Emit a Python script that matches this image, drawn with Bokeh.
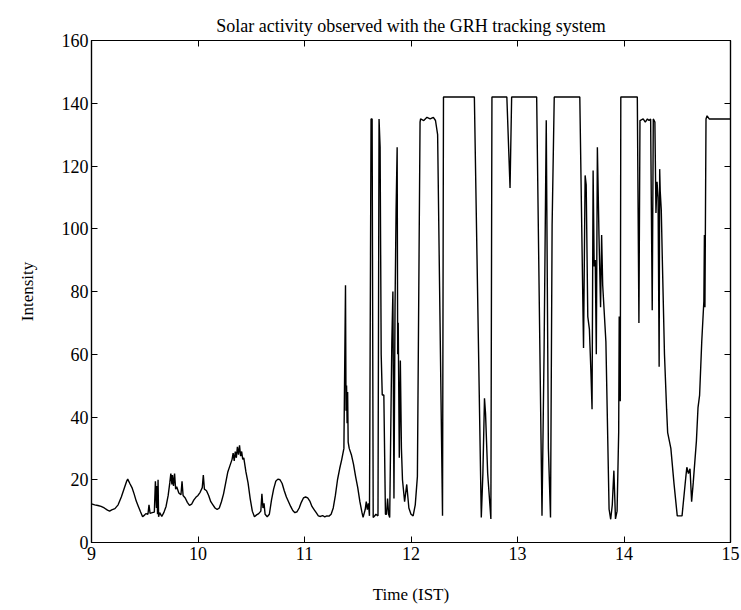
from bokeh.plotting import figure
from bokeh.models import LinearAxis, FixedTicker, Range1d, CustomLabelingPolicy
from bokeh.embed import file_html
from bokeh.resources import INLINE

# ---- data ----
time_ist = [
    9.00, 9.03, 9.06, 9.09, 9.12, 9.15, 9.17, 9.19, 9.22, 9.25, 9.28, 9.31, 9.33, 9.34, 9.36, 9.38,
    9.40, 9.42, 9.44, 9.46, 9.48, 9.50, 9.51, 9.53, 9.54, 9.55, 9.57, 9.59, 9.60, 9.61, 9.615, 9.62,
    9.625, 9.63, 9.64, 9.66, 9.68, 9.70, 9.72, 9.735, 9.745, 9.755, 9.76, 9.77, 9.78, 9.79, 9.80, 9.82,
    9.84, 9.85, 9.86, 9.88, 9.90, 9.92, 9.94, 9.96, 9.98, 10.00, 10.02, 10.04, 10.05, 10.06, 10.08, 10.10,
    10.12, 10.14, 10.16, 10.18, 10.20, 10.22, 10.24, 10.26, 10.28, 10.30, 10.32, 10.33, 10.34, 10.35, 10.36, 10.37,
    10.38, 10.39, 10.40, 10.41, 10.42, 10.43, 10.45, 10.47, 10.49, 10.51, 10.53, 10.55, 10.57, 10.59, 10.60, 10.61,
    10.62, 10.63, 10.65, 10.67, 10.69, 10.71, 10.73, 10.75, 10.77, 10.79, 10.81, 10.83, 10.85, 10.87, 10.89, 10.91,
    10.93, 10.95, 10.97, 10.99, 11.01, 11.03, 11.05, 11.07, 11.09, 11.11, 11.13, 11.15, 11.17, 11.19, 11.21, 11.23,
    11.25, 11.27, 11.29, 11.31, 11.33, 11.35, 11.37, 11.385, 11.39, 11.395, 11.40, 11.405, 11.41, 11.42, 11.44, 11.46,
    11.48, 11.50, 11.52, 11.54, 11.55, 11.57, 11.58, 11.59, 11.60, 11.61, 11.625, 11.635, 11.645, 11.66, 11.67, 11.69,
    11.70, 11.71, 11.72, 11.73, 11.745, 11.76, 11.77, 11.78, 11.79, 11.80, 11.82, 11.83, 11.84, 11.85, 11.86, 11.87,
    11.875, 11.88, 11.89, 11.90, 11.91, 11.92, 11.94, 11.96, 11.98, 12.00, 12.02, 12.04, 12.06, 12.085, 12.09, 12.12,
    12.15, 12.18, 12.21, 12.23, 12.25, 12.296, 12.305, 12.40, 12.50, 12.595, 12.66, 12.675, 12.69, 12.70, 12.72, 12.75,
    12.76, 12.90, 12.93, 12.945, 13.10, 13.18, 13.23, 13.25, 13.27, 13.29, 13.31, 13.325, 13.345, 13.585, 13.62, 13.635,
    13.645, 13.66, 13.675, 13.69, 13.70, 13.71, 13.72, 13.73, 13.74, 13.75, 13.765, 13.78, 13.79, 13.80, 13.83, 13.86,
    13.875, 13.89, 13.905, 13.92, 13.935, 13.95, 13.955, 13.965, 13.97, 14.125, 14.14, 14.15, 14.18, 14.20, 14.22, 14.235,
    14.25, 14.265, 14.275, 14.29, 14.30, 14.31, 14.32, 14.33, 14.335, 14.34, 14.35, 14.36, 14.38, 14.40, 14.41, 14.44,
    14.47, 14.50, 14.545, 14.58, 14.59, 14.605, 14.62, 14.635, 14.65, 14.68, 14.695, 14.71, 14.73, 14.75, 14.755, 14.76,
    14.77, 14.78, 14.80, 14.85, 14.90, 15.00,
]
intensity = [
    12.3, 12.0, 11.8, 11.5, 11.0, 10.3, 10.0, 10.4, 10.8, 12.0, 14.5, 17.5, 19.5, 20.2, 18.8, 17.5,
    15.5, 13.2, 11.5, 9.8, 8.2, 8.8, 9.2, 9.0, 12.0, 9.3, 9.5, 9.7, 19.5, 11.0, 18.0, 9.0,
    20.0, 8.2, 9.5, 8.3, 9.6, 11.5, 15.0, 19.0, 22.0, 18.5, 21.5, 18.0, 22.0, 17.0, 17.8, 15.8,
    15.2, 19.5, 15.0, 14.2, 12.8, 11.8, 12.2, 13.5, 14.4, 15.0, 16.0, 17.5, 21.5, 17.0, 16.5, 15.0,
    13.0, 12.0, 11.0, 10.5, 11.0, 13.0, 15.5, 19.0, 22.5, 24.5, 26.5, 28.5, 26.0, 29.0, 27.0, 30.5,
    28.0, 31.0, 27.5, 29.0, 26.5, 27.0, 22.5, 19.0, 14.0, 10.0, 8.2, 8.8, 9.2, 10.0, 15.5, 11.0,
    12.5, 9.0, 8.2, 9.0, 13.5, 17.0, 19.5, 20.2, 20.0, 18.8, 16.5, 14.5, 13.0, 11.5, 10.2, 9.5,
    9.8, 11.0, 12.8, 14.2, 14.5, 14.2, 13.2, 11.5, 10.5, 9.5, 8.5, 8.3, 8.6, 8.2, 8.5, 8.4,
    9.0, 11.0, 15.0, 20.0, 23.5, 26.5, 30.0, 82.0, 42.0, 50.0, 38.0, 48.0, 32.0, 30.0, 28.0, 25.0,
    21.0, 17.5, 13.0, 9.5, 8.0, 10.5, 13.0, 10.5, 12.5, 8.5, 135.0, 135.0, 8.0, 8.5, 9.0, 8.5,
    135.0, 126.0, 60.0, 47.0, 47.0, 9.0, 9.0, 14.0, 9.0, 8.0, 64.0, 80.0, 14.0, 75.0, 106.0, 126.0,
    60.0, 70.0, 27.0, 58.0, 30.0, 20.0, 13.0, 18.5, 11.0, 9.0, 8.5, 12.0, 21.0, 134.0, 135.0, 134.5,
    135.5, 135.0, 135.5, 134.5, 130.0, 8.5, 142.0, 142.0, 142.0, 142.0, 8.0, 22.0, 46.0, 41.0, 22.0, 7.5,
    142.0, 142.0, 113.0, 142.0, 142.0, 142.0, 8.5, 62.0, 134.6, 30.0, 8.0, 101.0, 142.0, 142.0, 62.0, 117.0,
    114.0, 72.0, 68.0, 53.7, 42.5, 118.6, 88.0, 90.0, 60.0, 126.0, 98.0, 75.0, 98.0, 82.0, 64.0, 10.6,
    7.4, 12.0, 22.9, 7.5, 10.0, 35.0, 72.0, 45.0, 142.0, 142.0, 70.0, 134.5, 135.0, 134.0, 135.0, 134.5,
    135.0, 74.0, 135.0, 134.0, 105.0, 115.0, 110.0, 56.0, 119.0, 112.0, 106.0, 90.0, 60.0, 42.5, 35.0, 30.0,
    18.6, 8.5, 8.5, 20.7, 24.0, 22.0, 23.5, 13.0, 19.0, 32.4, 43.0, 47.0, 64.0, 77.0, 98.0, 75.0,
    135.0, 136.0, 135.0, 135.0, 135.0, 135.0,
]
x_ticks = [9, 10, 11, 12, 13, 14, 15]
y_ticks = [0, 20, 40, 60, 80, 100, 120, 140, 160]

FONT = "Liberation Serif"

p = figure(width=741, height=610, output_backend="svg", toolbar_location=None,
           x_range=Range1d(9, 15), y_range=Range1d(0, 160),
           min_border_left=91, min_border_right=11, min_border_top=40, min_border_bottom=68)

p.title.text = "Solar activity observed with the GRH tracking system"
p.title.align = "center"
p.title.text_font = FONT
p.title.text_font_style = "normal"
p.title.text_font_size = "18px"
p.title.text_color = "black"
p.title.offset = 4

p.line(time_ist, intensity, line_color="black", line_width=1.4)

p.xgrid.visible = False
p.ygrid.visible = False
p.outline_line_color = "black"
p.outline_line_width = 1.2

def style_axis(ax, ticks, labels=True):
    ax.ticker = FixedTicker(ticks=ticks)
    ax.major_tick_in = 6
    ax.major_tick_out = 0
    ax.minor_tick_in = 0
    ax.minor_tick_out = 0
    ax.axis_line_color = "black"
    ax.axis_line_width = 1.2
    ax.major_tick_line_color = "black"
    ax.major_label_text_font = FONT
    ax.major_label_text_font_size = "18px"
    ax.major_label_text_color = "black"
    ax.axis_label_text_font = FONT
    ax.axis_label_text_font_style = "normal"
    ax.axis_label_text_font_size = "17px"
    ax.axis_label_text_color = "black"
    if not labels:
        ax.major_label_text_font_size = "0px"
        ax.major_label_policy = CustomLabelingPolicy(code="return new Set()")
        ax.major_label_standoff = 0

style_axis(p.xaxis[0], x_ticks)
style_axis(p.yaxis[0], y_ticks)
p.xaxis[0].axis_label = "Time (IST)"
p.xaxis[0].axis_label_standoff = 22
p.xaxis[0].major_label_standoff = 4
p.yaxis[0].axis_label = "Intensity"
p.yaxis[0].axis_label_standoff = 22
p.yaxis[0].major_label_standoff = 3

top_ax = LinearAxis()
style_axis(top_ax, x_ticks, labels=False)
p.add_layout(top_ax, "above")
right_ax = LinearAxis()
style_axis(right_ax, y_ticks, labels=False)
p.add_layout(right_ax, "right")

open("out.html", "w").write(file_html(p, INLINE))
